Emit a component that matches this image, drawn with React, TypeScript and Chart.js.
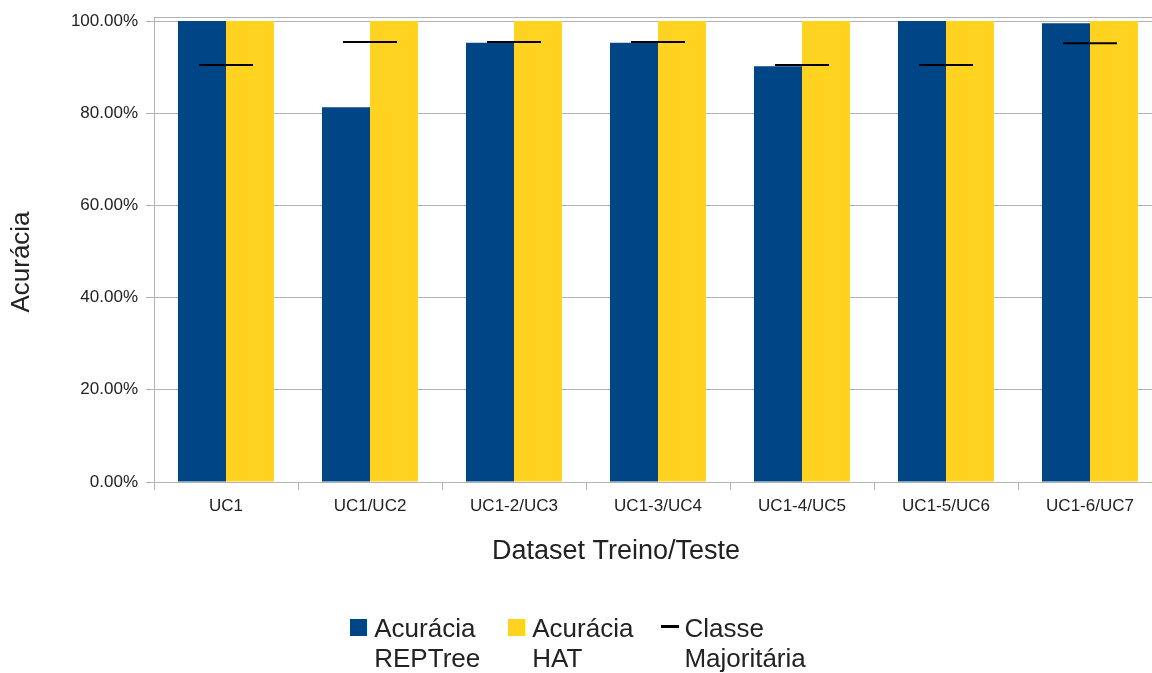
import React, { useEffect, useRef } from "react";
import { Chart, registerables } from "chart.js";

Chart.register(...registerables);

// Train/test dataset pairs and accuracy values (percent)
const categories = ["UC1", "UC1/UC2", "UC1-2/UC3", "UC1-3/UC4", "UC1-4/UC5", "UC1-5/UC6", "UC1-6/UC7"];
const repTreeAccuracy = [100, 81.3, 95.3, 95.3, 90.2, 100, 99.5];
const hatAccuracy = [100, 100, 100, 100, 100, 100, 100];
const majorityClass = [90.45, 95.45, 95.45, 95.45, 90.45, 90.45, 95.2];
const yTickValues = [0, 20, 40, 60, 80, 100];
const xAxisTitle = "Dataset Treino/Teste";
const yAxisTitle = "Acurácia";

const BLUE = "#004586";
const YELLOW = "#ffd320";
const GRID = "#b3b3b3";
const TEXT = "#222222";
const FONT = "'Liberation Sans', Arial, sans-serif";

const legendItems = [
  { lines: ["Acurácia", "REPTree"], color: BLUE, kind: "box" },
  { lines: ["Acurácia", "HAT"], color: YELLOW, kind: "box" },
  { lines: ["Classe", "Majoritária"], color: "#000000", kind: "line" },
];

// Frame line along the top edge of the plot area
const topFrame = {
  id: "topFrame",
  beforeDatasetsDraw(chart: any) {
    const { ctx, chartArea } = chart;
    ctx.save();
    ctx.strokeStyle = GRID;
    ctx.lineWidth = 1;
    ctx.beginPath();
    ctx.moveTo(chartArea.left, chartArea.top + 0.5);
    ctx.lineTo(chartArea.right, chartArea.top + 0.5);
    ctx.stroke();
    ctx.restore();
  },
};

// Axis titles, placed relative to the plot area
const axisTitles = {
  id: "axisTitles",
  afterDraw(chart: any) {
    const { ctx, chartArea } = chart;
    ctx.save();
    ctx.fillStyle = TEXT;
    ctx.textAlign = "center";
    ctx.textBaseline = "middle";
    ctx.font = `27px ${FONT}`;
    ctx.fillText(xAxisTitle, chartArea.left + 462, chartArea.bottom + 70);
    ctx.font = `26px ${FONT}`;
    ctx.translate(22, chartArea.top + 245);
    ctx.rotate(-Math.PI / 2);
    ctx.fillText(yAxisTitle, 0, 0);
    ctx.restore();
  },
};

export default function App() {
  const canvasRef = useRef<HTMLCanvasElement | null>(null);

  useEffect(() => {
    if (!canvasRef.current) return;
    const chart = new Chart(canvasRef.current, {
      type: "bar",
      data: {
        labels: categories,
        datasets: [
          {
            type: "line",
            label: "Classe Majoritária",
            data: majorityClass,
            showLine: false,
            pointStyle: "line",
            pointRadius: 27,
            pointHoverRadius: 27,
            borderColor: "#000000",
            backgroundColor: "#000000",
            borderWidth: 2,
            order: 0,
          } as any,
          {
            label: "Acurácia REPTree",
            data: repTreeAccuracy,
            backgroundColor: BLUE,
            borderWidth: 0,
            categoryPercentage: 0.667,
            barPercentage: 1.0,
            order: 1,
          },
          {
            label: "Acurácia HAT",
            data: hatAccuracy,
            backgroundColor: YELLOW,
            borderWidth: 0,
            categoryPercentage: 0.667,
            barPercentage: 1.0,
            order: 1,
          },
        ],
      },
      options: {
        responsive: false,
        animation: false,
        layout: { autoPadding: false, padding: { top: 17, left: 0, right: 0, bottom: 0 } },
        plugins: {
          legend: { display: false },
          tooltip: { enabled: false },
        },
        scales: {
          x: {
            offset: true,
            grid: {
              offset: true,
              drawOnChartArea: false,
              drawTicks: true,
              tickLength: 8,
              color: GRID,
            },
            border: { color: GRID },
            ticks: {
              color: TEXT,
              font: { family: FONT, size: 17 },
              padding: 6,
              maxRotation: 0,
            },
            title: { display: false },
            afterFit(scale: any) {
              scale.height = 191;
              scale.paddingLeft = 0;
              scale.paddingRight = 0;
            },
          },
          y: {
            min: 0,
            max: 100.87,
            afterBuildTicks(scale: any) {
              scale.ticks = yTickValues.map((v) => ({ value: v }));
            },
            grid: { color: GRID, tickLength: 8 },
            border: { color: GRID },
            ticks: {
              color: TEXT,
              font: { family: FONT, size: 17 },
              padding: 8,
              callback: (v: any) => Number(v).toFixed(2) + "%",
            },
            title: { display: false },
            afterFit(scale: any) {
              scale.width = 154;
              scale.paddingTop = 0;
              scale.paddingBottom = 0;
            },
          },
        },
      },
      plugins: [topFrame, axisTitles],
    });
    return () => chart.destroy();
  }, []);

  return (
    <div
      style={{
        position: "absolute",
        left: 0,
        top: 0,
        width: 1152,
        height: 673,
        overflow: "hidden",
        background: "#ffffff",
        fontFamily: FONT,
      }}
    >
      <canvas ref={canvasRef} width={1162} height={673} style={{ display: "block" }} />
      <div
        style={{
          position: "absolute",
          left: 0,
          top: 613,
          width: 1152,
          display: "flex",
          justifyContent: "center",
          gap: 28,
          paddingLeft: 4,
          boxSizing: "border-box",
        }}
      >
        {legendItems.map((item, i) => (
          <div key={i} style={{ display: "flex", alignItems: "flex-start" }}>
            {item.kind === "box" ? (
              <div
                style={{
                  width: 17,
                  height: 17,
                  background: item.color,
                  marginTop: 6,
                  marginRight: 7,
                }}
              />
            ) : (
              <div
                style={{
                  width: 18,
                  height: 3,
                  background: item.color,
                  marginTop: 12,
                  marginRight: 5,
                }}
              />
            )}
            <div style={{ fontSize: 26, lineHeight: "30px", color: TEXT }}>
              {item.lines.map((l, j) => (
                <div key={j}>{l}</div>
              ))}
            </div>
          </div>
        ))}
      </div>
    </div>
  );
}
